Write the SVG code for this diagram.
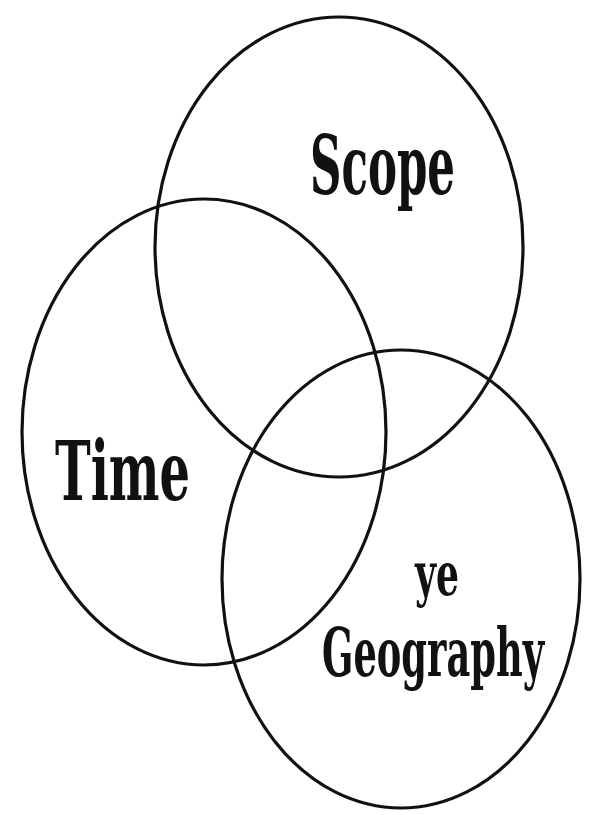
<svg xmlns="http://www.w3.org/2000/svg" width="593" height="815" viewBox="0 0 593 815">
<style>
.c{fill:none;stroke:#111;stroke-width:3.2}
.t{font-family:"DejaVu Serif","Liberation Serif",serif;font-weight:bold;fill:#111;font-stretch:condensed}
</style>
<rect width="593" height="815" fill="#fff"/>
<g id="connectors"></g>
<g id="scope">
<ellipse class="c" cx="339" cy="247" rx="184" ry="230"/>
<text class="t" x="310" y="194" font-size="82" textLength="145" lengthAdjust="spacingAndGlyphs">Scope</text>
</g>
<g id="time">
<ellipse class="c" cx="204" cy="432" rx="182" ry="233"/>
<text class="t" x="55" y="500" font-size="82" textLength="135" lengthAdjust="spacingAndGlyphs">Time</text>
</g>
<g id="geography">
<ellipse class="c" cx="401" cy="579" rx="179" ry="229"/>
<text class="t" x="415" y="595" font-size="60" textLength="44" lengthAdjust="spacingAndGlyphs">ye</text>
<text class="t" x="322" y="676" font-size="68" textLength="222" lengthAdjust="spacingAndGlyphs">Geography</text>
</g>
</svg>
